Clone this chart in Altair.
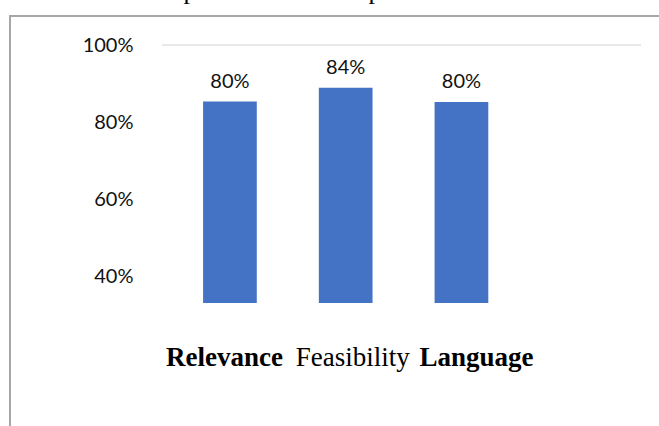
import altair as alt
import pandas as pd

categories = ["Relevance", "Feasibility", "Language"]
bar_values = [85.3, 88.9, 85.2]          # bar heights as read against the y axis (%)
value_labels = ["80%", "84%", "80%"]      # data labels printed above bars
y_ticks = [40, 60, 80, 100]

df = pd.DataFrame({"category": categories, "value": bar_values, "label": value_labels})

W, H = 479, 258
Y_MIN, Y_MAX = 33, 100

x_enc = alt.X(
    "category:N",
    sort=categories,
    scale=alt.Scale(paddingInner=0.536, paddingOuter=0.837, align=0.212),
    axis=alt.Axis(
        title=None, domain=False, ticks=False, tickSize=0, labelAngle=0,
        labelFont="Liberation Serif", labelFontSize=27, labelColor="#000000",
        labelBaseline="alphabetic", labelPadding=62,
        labelFontWeight={"condition": {"test": "datum.value !== 'Feasibility'", "value": "bold"}, "value": "normal"},
        labelOffset={"condition": [
            {"test": "datum.value === 'Relevance'", "value": -5.5},
            {"test": "datum.value === 'Language'", "value": 15}],
            "value": 7},
    ),
)
y_scale = alt.Scale(domain=[Y_MIN, Y_MAX], zero=False, nice=False)
y_axis = alt.Axis(
    title=None, values=y_ticks, domain=False, ticks=False, grid=False,
    labelExpr="datum.value + '%'", labelFont="Lato", labelFontSize=20,
    labelColor="#111111", labelPadding=29,
)

base = alt.Chart(df)

bars = base.mark_bar(color="#4472C4").encode(
    x=x_enc,
    y=alt.Y("value:Q", scale=y_scale, axis=y_axis),
    y2=alt.datum(Y_MIN),
)

grid = alt.Chart(pd.DataFrame({"y": [100]})).mark_rule(color="#e0e0e0", strokeWidth=1.5).encode(
    y=alt.Y("y:Q", scale=y_scale, axis=y_axis)
)

texts = base.mark_text(font="Lato", fontSize=20, color="#111111", baseline="alphabetic", dy=-14).encode(
    x=alt.X("category:N", sort=categories),
    y=alt.Y("value:Q", scale=y_scale, axis=y_axis),
    text="label:N",
)

frame = alt.Chart(pd.DataFrame({"a": [0]})).mark_rect(
    fill=None, fillOpacity=0, stroke="#a6a6a6", strokeWidth=2
).encode(
    x=alt.value(-152), x2=alt.value(520), y=alt.value(-29), y2=alt.value(420)
)

# descenders of a cut-off caption line above the chart
caption_bits = alt.Chart(pd.DataFrame({"t": ["p", "p"], "px": [-162 + 190, -162 + 375]})).mark_text(
    font="Liberation Serif", fontSize=26, color="#000000", baseline="alphabetic"
).encode(
    x=alt.X("px:Q", scale=None), y=alt.value(-46.5), text="t:N"
)

chart = alt.layer(bars, grid, texts, frame, caption_bits).properties(
    width=W, height=H,
    autosize=alt.AutoSizeParams(type="none"),
    padding={"left": 162, "top": 45, "right": 18, "bottom": 123},
    background="white",
).configure_view(stroke=None)

chart.save("out.html", embed_options={"renderer": "svg", "actions": False})
